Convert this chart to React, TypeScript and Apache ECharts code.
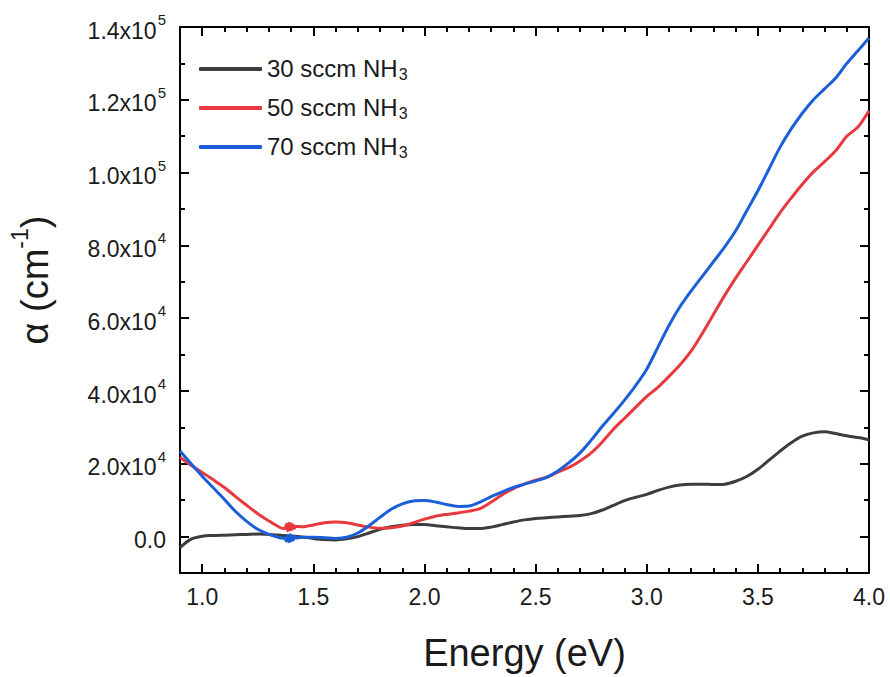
import React, { useEffect, useRef } from 'react';
import * as echarts from 'echarts';

// Photon energy (eV)
const energy = [
  0.9, 0.95, 1.0, 1.05, 1.1, 1.15, 1.2, 1.25, 1.3, 1.35, 1.37, 1.38, 1.385, 1.39, 1.395, 1.4, 1.405, 1.41, 1.415, 1.42,
  1.45, 1.5, 1.55, 1.6, 1.65, 1.7, 1.75, 1.8, 1.85, 1.9, 1.95, 2.0, 2.05, 2.1, 2.15, 2.2, 2.25, 2.3, 2.35, 2.4,
  2.45, 2.5, 2.55, 2.6, 2.65, 2.7, 2.75, 2.8, 2.85, 2.9, 2.95, 3.0, 3.05, 3.1, 3.15, 3.2, 3.25, 3.3, 3.35, 3.4,
  3.45, 3.5, 3.55, 3.6, 3.65, 3.7, 3.75, 3.8, 3.85, 3.9, 3.95, 4.0,
];

// Absorption coefficient (cm^-1)
const alpha30 = [
  -3000, -700, 100, 300, 400, 500, 600, 700, 600, 400, 300, 250, 150, 250, 100, 200, 100, 150, 50, 100,
  -100, -500, -800, -900, -600, 0, 1000, 2000, 2700, 3100, 3300, 3300, 3000, 2700, 2400, 2200, 2200, 2600, 3300, 4000,
  4600, 5000, 5200, 5400, 5600, 5800, 6300, 7300, 8600, 9900, 10800, 11600, 12700, 13600, 14200, 14400, 14400, 14300, 14400, 15200,
  16500, 18500, 21000, 23500, 25800, 27600, 28500, 28800, 28300, 27700, 27200, 26600,
];

const alpha50 = [
  21800, 19600, 17600, 15600, 13500, 11000, 8600, 6300, 4300, 2500, 2200, 3400, 1600, 3700, 1800, 3500, 2000, 3200, 2300, 2800,
  2700, 3200, 3800, 4000, 3800, 3200, 2600, 2300, 2400, 2900, 3800, 4800, 5600, 6100, 6500, 7000, 7700, 9500, 11500, 13200,
  14500, 15500, 16300, 17700, 19000, 20800, 23000, 26000, 29500, 32500, 35500, 38500, 41000, 44000, 47200, 51000, 55800, 61000, 66200, 71000,
  75500, 80000, 84500, 89000, 93000, 96800, 100200, 103000, 106000, 110000, 112500, 117000,
];

const alpha70 = [
  23500, 20000, 16600, 13400, 10200, 6900, 4200, 2000, 600, -300, -500, -1200, 300, -1400, 500, -1200, 200, -900, 100, -400,
  -200, -200, -300, -500, -200, 1000, 3000, 5300, 7500, 9000, 9800, 9900, 9500, 8800, 8300, 8400, 9500, 11000, 12300, 13500,
  14400, 15300, 16300, 18000, 20300, 23000, 26500, 30300, 33800, 37500, 41500, 46000, 52000, 58000, 63200, 67500, 71500, 75500, 79500, 84000,
  89500, 95000, 101000, 107000, 112000, 116300, 120000, 123000, 126000, 130000, 133500, 137000,
];

const seriesNames = ['30 sccm NH3', '50 sccm NH3', '70 sccm NH3'];
const seriesColors = ['#3d3d3d', '#e8393e', '#1b5fd8'];

const xMajorTicks = [1.0, 1.5, 2.0, 2.5, 3.0, 3.5, 4.0];
const xMinorTicks = [1.1, 1.2, 1.3, 1.4, 1.6, 1.7, 1.8, 1.9, 2.1, 2.2, 2.3, 2.4, 2.6, 2.7, 2.8, 2.9, 3.1, 3.2, 3.3, 3.4, 3.6, 3.7, 3.8, 3.9];
const yMajorTicks = [0, 20000, 40000, 60000, 80000, 100000, 120000, 140000];
const yMinorTicks = [10000, 30000, 50000, 70000, 90000, 110000, 130000];

const X_MIN = 0.9;
const X_MAX = 4.0;
const Y_MIN = -10000;
const Y_MAX = 140000;

const FONT = '"Liberation Sans", Arial, sans-serif';
const TEXT = '#1a1a1a';

function yLabel(v: number): string {
  if (Math.abs(v) < 1e-9) return '{b|0.0}';
  const exp = Math.floor(Math.log10(Math.abs(v)));
  const mant = (v / Math.pow(10, exp)).toFixed(1);
  return `{b|${mant}x10}{s|${exp}}`;
}

function legendLabel(name: string): string {
  const m = name.match(/^(.*NH)(3)$/);
  if (!m) return `{n|${name}}`;
  return `{n|${m[1]}}{sub|${m[2]}}`;
}

export default function App() {
  const ref = useRef<HTMLDivElement>(null);

  useEffect(() => {
    if (!ref.current) return;
    const chart = echarts.init(ref.current, undefined, { renderer: 'svg' });

    const axisLine = { show: true, onZero: false, lineStyle: { color: '#000', width: 2 } };

    const makeX = (position: 'bottom' | 'top', ticks: number[], len: number, labels: boolean, extra: any = {}) => ({
      type: 'value',
      position,
      min: X_MIN,
      max: X_MAX,
      axisLine,
      splitLine: { show: false },
      axisTick: { show: true, inside: true, length: len, customValues: ticks, lineStyle: { color: '#000', width: 2 } },
      axisLabel: labels
        ? { show: true, customValues: ticks, formatter: (v: number) => v.toFixed(1), fontSize: 23, color: TEXT, margin: 12, fontFamily: FONT }
        : { show: false },
      ...extra,
    });

    const makeY = (position: 'left' | 'right', ticks: number[], len: number, labels: boolean, extra: any = {}) => ({
      type: 'value',
      position,
      min: Y_MIN,
      max: Y_MAX,
      axisLine,
      splitLine: { show: false },
      axisTick: { show: true, inside: true, length: len, customValues: ticks, lineStyle: { color: '#000', width: 2 } },
      axisLabel: labels
        ? {
            show: true,
            customValues: ticks,
            formatter: yLabel,
            margin: 14,
            color: TEXT,
            fontFamily: FONT,
            rich: {
              b: { fontSize: 23, fontFamily: FONT, color: TEXT, lineHeight: 30, verticalAlign: 'bottom' },
              s: { fontSize: 15, fontFamily: FONT, color: TEXT, lineHeight: 30, verticalAlign: 'top', padding: [0, 0, 0, 1] },
            },
          }
        : { show: false },
      ...extra,
    });

    const option: any = {
      animation: false,
      backgroundColor: '#ffffff',
      grid: { left: 179, right: 21, top: 27, bottom: 94, containLabel: false },
      legend: {
        orient: 'vertical',
        left: 194,
        top: 46,
        itemWidth: 63,
        itemHeight: 4,
        itemGap: 8,
        icon: 'roundRect',
        data: seriesNames.map((n, i) => ({ name: n, itemStyle: { color: seriesColors[i] } })),
        formatter: legendLabel,
        textStyle: {
          fontFamily: FONT,
          fontSize: 24,
          color: TEXT,
          rich: {
            n: { fontSize: 24, fontFamily: FONT, color: TEXT, lineHeight: 26, verticalAlign: 'top' },
            sub: { fontSize: 16, fontFamily: FONT, color: TEXT, lineHeight: 16, verticalAlign: 'bottom', padding: [15, 0, 0, 1] },
          },
        },
      },
      xAxis: [
        makeX('bottom', xMajorTicks, 9, true, {
          name: 'Energy (eV)',
          nameLocation: 'middle',
          nameGap: 61,
          nameTextStyle: { fontSize: 38, fontFamily: FONT, color: TEXT },
        }),
        makeX('bottom', xMinorTicks, 5, false),
        makeX('top', xMajorTicks, 9, false),
        makeX('top', xMinorTicks, 5, false),
      ],
      yAxis: [
        makeY('left', yMajorTicks, 9, true, {
          name: '{a|α (cm}{s|-1}{a|)}',
          nameLocation: 'middle',
          nameGap: 126,
          nameTextStyle: {
            fontSize: 38,
            fontFamily: FONT,
            color: TEXT,
            padding: [0, 0, 0, 40],
            rich: {
              a: { fontSize: 38, fontFamily: FONT, color: TEXT, lineHeight: 46, verticalAlign: 'bottom' },
              s: { fontSize: 23, fontFamily: FONT, color: TEXT, lineHeight: 46, verticalAlign: 'top' },
            },
          },
        }),
        makeY('left', yMinorTicks, 5, false),
        makeY('right', yMajorTicks, 9, false),
        makeY('right', yMinorTicks, 5, false),
      ],
      series: [alpha30, alpha50, alpha70].map((vals, i) => ({
        name: seriesNames[i],
        type: 'line',
        xAxisIndex: 0,
        yAxisIndex: 0,
        data: energy.map((e, j) => [e, vals[j]]),
        symbol: 'none',
        showSymbol: false,
        smooth: 0.3,
        clip: true,
        lineStyle: { color: seriesColors[i], width: 3 },
        itemStyle: { color: seriesColors[i] },
        z: 3 + i,
      })),
    };

    chart.setOption(option);
    return () => chart.dispose();
  }, []);

  return (
    <div
      ref={ref}
      style={{ position: 'fixed', left: 0, top: 0, width: 890, height: 677, background: '#fff' }}
    />
  );
}
